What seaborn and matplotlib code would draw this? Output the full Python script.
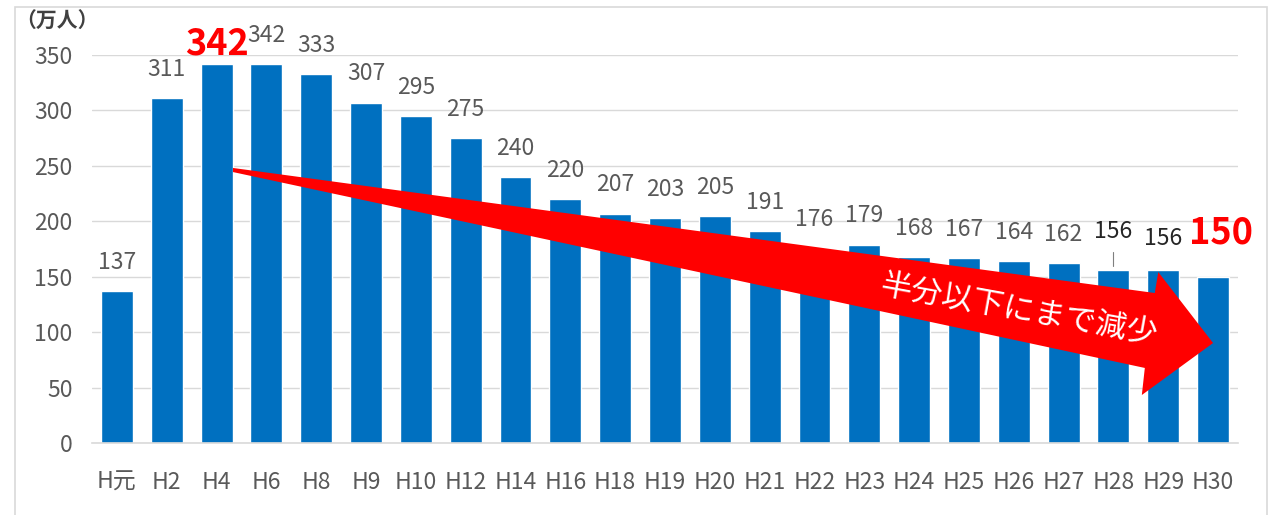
import matplotlib
matplotlib.use("Agg")
import matplotlib.pyplot as plt
import seaborn as sns
import pandas as pd
from matplotlib.patches import Polygon, Rectangle

categories = ["H元", "H2", "H4", "H6", "H8", "H9", "H10", "H12", "H14", "H16", "H18",
              "H19", "H20", "H21", "H22", "H23", "H24", "H25", "H26", "H27", "H28",
              "H29", "H30"]
values = [137, 311, 342, 342, 333, 307, 295, 275, 240, 220, 207,
          203, 205, 191, 176, 179, 168, 167, 164, 162, 156, 156, 150]
y_ticks = [0, 50, 100, 150, 200, 250, 300, 350]
unit_label = "（万人）"
arrow_text = "半分以下にまで減少"

sns.set_theme(style="white")
plt.rcParams['font.family'] = ['Noto Sans CJK JP', 'DejaVu Sans']

BLUE = "#0070C0"
GREY = "#595959"
GRID = "#D9D9D9"

df = pd.DataFrame({"cat": categories, "val": values})

fig = plt.figure(figsize=(12.76, 5.15), dpi=100)
ax = fig.add_axes([92 / 1276, 72 / 515, (1238 - 92) / 1276, (443 - 55) / 515])

sns.barplot(data=df, x="cat", y="val", color=BLUE, saturation=1, width=0.64, ax=ax, zorder=2)

ax.set_xlim(-0.5, len(categories) - 0.5)
ax.set_ylim(0, 350)
ax.set_yticks(y_ticks)
ax.set_yticklabels([str(t) for t in y_ticks])
ax.yaxis.grid(True, color=GRID, linewidth=1, zorder=0)
ax.set_axisbelow(True)
for s in ["top", "right", "left"]:
    ax.spines[s].set_visible(False)
ax.spines["bottom"].set_color(GRID)
ax.spines["bottom"].set_linewidth(1.2)
ax.set_xlabel("")
ax.set_ylabel("")
ax.tick_params(axis="y", length=0, pad=14, labelsize=16.5, labelcolor=GREY)
ax.tick_params(axis="x", which="major", length=0, pad=20, labelsize=16.5, labelcolor=GREY)
ax.set_xticks([i - 0.5 for i in range(len(categories) + 1)], minor=True)
ax.tick_params(axis="x", which="minor", length=7, color=GRID, width=1.2)

# data labels
n = len(categories)
LBL = 16.5
for i, v in enumerate(values):
    if i == 2:
        ax.annotate(str(v), (i, v), xytext=(0, 6.5), textcoords="offset points",
                    ha="center", va="baseline", fontsize=26, fontweight="bold",
                    color="#FF0000", zorder=5, annotation_clip=False)
    elif i == n - 1:
        ax.annotate(str(v), (i, v), xytext=(6, 24), textcoords="offset points",
                    ha="center", va="baseline", fontsize=26, fontweight="bold",
                    color="#FF0000", zorder=5, annotation_clip=False)
    elif i == n - 3:
        ax.annotate(str(v), (i, v), xytext=(0, 23), textcoords="offset points",
                    ha="center", va="baseline", fontsize=LBL, color="#262626",
                    zorder=5, annotation_clip=False)
        ax.plot([i, i], [v + 3.7, v + 16], color="#7F7F7F", linewidth=0.8, zorder=3)
    elif i == n - 2:
        ax.annotate(str(v), (i, v), xytext=(0, 18), textcoords="offset points",
                    ha="center", va="baseline", fontsize=LBL, color="#262626",
                    zorder=5, annotation_clip=False)
    else:
        ax.annotate(str(v), (i, v), xytext=(0, 16), textcoords="offset points",
                    ha="center", va="baseline", fontsize=LBL, color=GREY,
                    zorder=5, annotation_clip=False)

# red arrow (decoration)
arrow_pts = [(2.33, 248.1), (20.83, 135.3), (20.90, 154.2), (22.0, 90.2),
             (20.57, 43.3), (20.63, 67.7), (2.33, 244.4)]
ax.add_patch(Polygon(arrow_pts, closed=True, facecolor="#FF0000", edgecolor="none",
                     zorder=4, clip_on=False))
ax.text(18.1, 119, arrow_text, rotation=-10.3, rotation_mode="anchor",
        ha="center", va="center", fontsize=22.5, color="white", zorder=6)

fig.text(15 / 1276, 1 - 21 / 515, unit_label, ha="left", va="center",
         fontsize=15, fontweight="bold", color="#404040")

fig.patches.append(Rectangle((15 / 1276, -0.05), (1267 - 15) / 1276, 1.05 - 7 / 515,
                             transform=fig.transFigure, fill=False,
                             edgecolor=GRID, linewidth=1.2))

fig.savefig("out.png", dpi=100)
